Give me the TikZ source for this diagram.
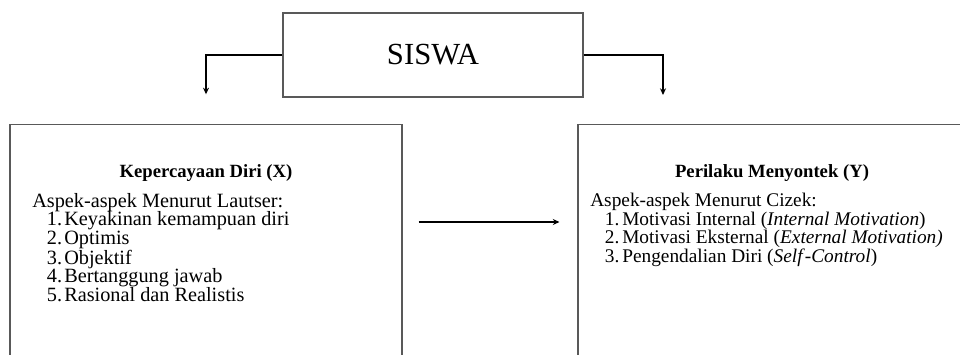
\documentclass[tikz,border=0pt]{standalone}
\usepackage{fontspec}
\setmainfont{Liberation Serif}
\usetikzlibrary{arrows.meta}

\newcommand{\nomor}[1]{\hspace*{11pt}\makebox[13pt][l]{#1}}

\begin{document}
\begin{tikzpicture}[x=0.75pt, y=-0.75pt,
    box/.style={draw=black!65, line width=0.8pt, inner sep=0pt},
    link/.style={draw=black, line width=1.2pt, -{Stealth[length=5pt,width=4.5pt]}},
    head/.style={font=\fontsize{14}{16}\selectfont\bfseries, inner sep=0pt},
    list/.style={font=\fontsize{15.2}{13.9}\selectfont, align=left, inner sep=0pt, anchor=north west}]

    \useasboundingbox (0,0) rectangle (960,354);
    \clip (0,0) rectangle (960,354);

    \node[box, minimum width=225pt, minimum height=63pt, font=\fontsize{23}{25}\selectfont] (siswa) at (433,55) {SISWA};
    \node[box, minimum width=294pt, minimum height=184pt] (kp) at (206,247.5) {};
    \node[box, minimum width=292.5pt, minimum height=184pt] (pm) at (773,247.5) {};

    \node[head] (kpTitle) at (206,173) {Kepercayaan Diri (X)};
    \node[list] (kpList) at (32,193) {Aspek-aspek Menurut Lautser:\\
        \nomor{1.}Keyakinan kemampuan diri\\
        \nomor{2.}Optimis\\
        \nomor{3.}Objektif\\
        \nomor{4.}Bertanggung jawab\\
        \nomor{5.}Rasional dan Realistis};

    \node[head] (pmTitle) at (772,173) {Perilaku Menyontek (Y)};
    \node[list, font=\fontsize{14.5}{13.9}\selectfont] (pmList) at (590,193) {Aspek-aspek Menurut Cizek:\\
        \nomor{1.}Motivasi Internal (\textit{Internal Motivation})\\
        \nomor{2.}Motivasi Eksternal (\textit{External Motivation)}\\
        \nomor{3.}Pengendalian Diri (\textit{Self}-\textit{Control})};

    \coordinate (mid) at (490,222);
    \coordinate (drop) at (663,125);

    \draw[link, shorten >=22.5pt] (siswa.west) -| (kp.north);
    \draw[link, shorten >=22.5pt] (siswa.east) -| (drop);
    \draw[link, shorten <=12pt, shorten >=13.5pt] (kp.east |- mid) -- (pm.west |- mid);
\end{tikzpicture}
\end{document}
